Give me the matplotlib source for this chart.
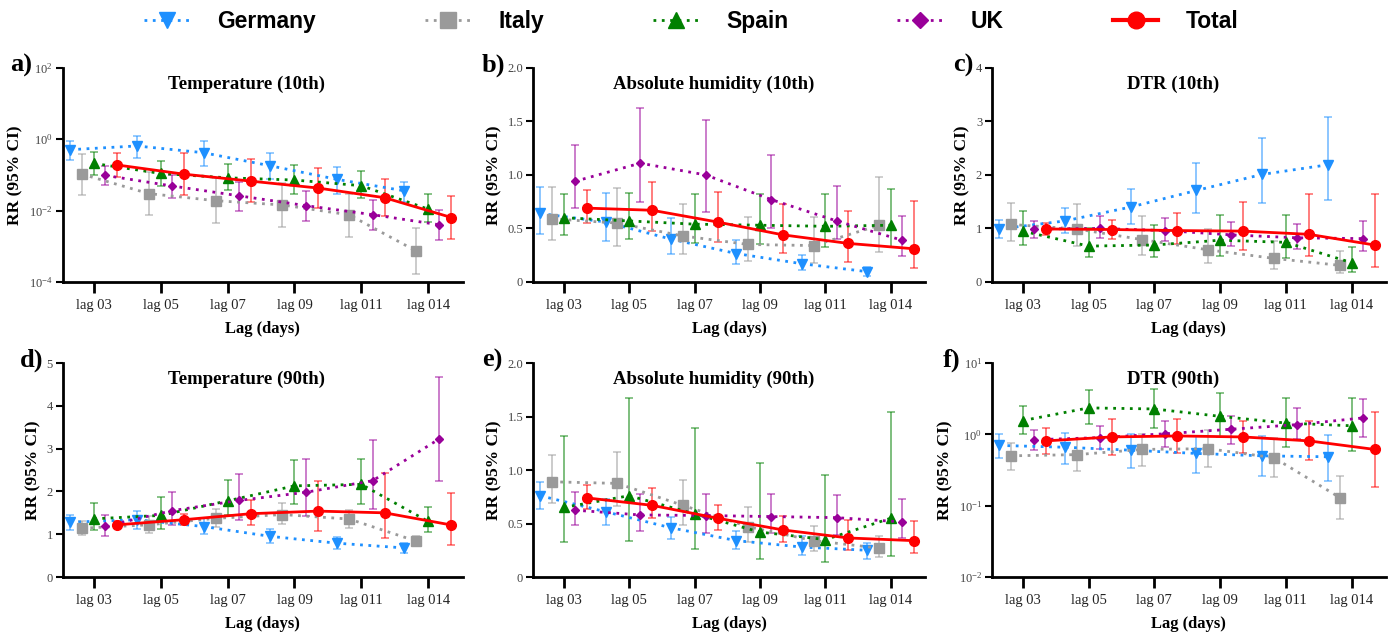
import matplotlib

matplotlib.use("Agg")
import matplotlib.pyplot as plt
from matplotlib.lines import Line2D
import numpy as np

LAGS = ["lag 03", "lag 05", "lag 07", "lag 09", "lag 011", "lag 014"]
SERIES = ["Germany", "Italy", "Spain", "UK", "Total"]

# rows: Germany, Italy, Spain, UK, Total
TEMP10_RR = [[0.51, 0.65, 0.42, 0.18, 0.075, 0.036],
             [0.105, 0.030, 0.019, 0.0144, 0.0076, 0.00074],
             [0.21, 0.11, 0.083, 0.072, 0.050, 0.011],
             [0.097, 0.049, 0.026, 0.0138, 0.0077, 0.0040],
             [0.19, 0.105, 0.067, 0.043, 0.023, 0.0064]]
TEMP10_LO = [[0.26, 0.30, 0.18, 0.076, 0.029, 0.018],
             [0.028, 0.0074, 0.0046, 0.0034, 0.0018, 0.00017],
             [0.10, 0.049, 0.037, 0.030, 0.022, 0.0048],
             [0.051, 0.022, 0.010, 0.0051, 0.0029, 0.0015],
             [0.085, 0.027, 0.017, 0.012, 0.0069, 0.0016]]
TEMP10_HI = [[0.90, 1.24, 0.88, 0.40, 0.17, 0.065],
             [0.38, 0.12, 0.080, 0.058, 0.029, 0.0032],
             [0.44, 0.24, 0.20, 0.19, 0.13, 0.030],
             [0.18, 0.10, 0.062, 0.035, 0.020, 0.0104],
             [0.42, 0.40, 0.28, 0.155, 0.075, 0.026]]

AH10_RR = [[0.64, 0.56, 0.40, 0.265, 0.17, 0.096],
           [0.59, 0.55, 0.43, 0.35, 0.34, 0.53],
           [0.60, 0.57, 0.54, 0.53, 0.52, 0.53],
           [0.94, 1.11, 1.00, 0.77, 0.57, 0.39],
           [0.69, 0.67, 0.56, 0.44, 0.36, 0.31]]
AH10_LO = [[0.45, 0.38, 0.26, 0.17, 0.11, 0.06],
           [0.39, 0.34, 0.26, 0.20, 0.18, 0.28],
           [0.44, 0.40, 0.36, 0.35, 0.33, 0.33],
           [0.69, 0.75, 0.65, 0.50, 0.40, 0.24],
           [0.55, 0.48, 0.37, 0.27, 0.19, 0.13]]
AH10_HI = [[0.89, 0.83, 0.60, 0.39, 0.25, 0.14],
           [0.89, 0.88, 0.73, 0.61, 0.61, 0.98],
           [0.82, 0.83, 0.82, 0.82, 0.82, 0.87],
           [1.28, 1.63, 1.51, 1.19, 0.90, 0.62],
           [0.86, 0.93, 0.84, 0.73, 0.66, 0.76]]

DTR10_RR = [[0.99, 1.14, 1.40, 1.71, 2.01, 2.19],
            [1.075, 0.99, 0.79, 0.60, 0.44, 0.31],
            [0.95, 0.67, 0.69, 0.78, 0.74, 0.36],
            [0.99, 1.00, 0.96, 0.88, 0.825, 0.81],
            [0.99, 0.98, 0.96, 0.95, 0.89, 0.69]]
DTR10_LO = [[0.83, 0.91, 1.08, 1.29, 1.475, 1.54],
            [0.77, 0.67, 0.51, 0.36, 0.24, 0.16],
            [0.69, 0.47, 0.46, 0.49, 0.44, 0.19],
            [0.83, 0.825, 0.76, 0.68, 0.625, 0.575],
            [0.875, 0.81, 0.71, 0.59, 0.48, 0.28]]
DTR10_HI = [[1.16, 1.39, 1.74, 2.22, 2.69, 3.09],
            [1.47, 1.46, 1.24, 0.99, 0.77, 0.575],
            [1.325, 1.0, 1.07, 1.26, 1.26, 0.66],
            [1.14, 1.23, 1.19, 1.125, 1.09, 1.13],
            [1.10, 1.16, 1.29, 1.49, 1.64, 1.64]]

TEMP90_RR = [[1.28, 1.34, 1.18, 0.95, 0.79, 0.68],
             [1.14, 1.22, 1.37, 1.46, 1.355, 0.84],
             [1.36, 1.44, 1.78, 2.13, 2.165, 1.30],
             [1.19, 1.55, 1.79, 1.98, 2.25, 3.23],
             [1.22, 1.34, 1.48, 1.54, 1.50, 1.215]]
TEMP90_LO = [[1.11, 1.13, 1.0, 0.79, 0.66, 0.56],
             [0.99, 1.04, 1.18, 1.24, 1.15, 0.75],
             [1.10, 1.13, 1.45, 1.71, 1.71, 1.06],
             [0.97, 1.21, 1.33, 1.425, 1.60, 2.235],
             [1.14, 1.21, 1.21, 1.07, 0.92, 0.755]]
TEMP90_HI = [[1.45, 1.55, 1.38, 1.12, 0.93, 0.79],
             [1.32, 1.42, 1.59, 1.74, 1.57, 0.95],
             [1.72, 1.87, 2.27, 2.73, 2.76, 1.635],
             [1.45, 1.99, 2.41, 2.76, 3.21, 4.665],
             [1.32, 1.48, 1.81, 2.235, 2.44, 1.96]]

AH90_RR = [[0.76, 0.61, 0.46, 0.34, 0.28, 0.25],
           [0.89, 0.875, 0.67, 0.47, 0.34, 0.27],
           [0.65, 0.76, 0.59, 0.42, 0.35, 0.55],
           [0.625, 0.58, 0.575, 0.565, 0.555, 0.515],
           [0.74, 0.67, 0.55, 0.44, 0.365, 0.34]]
AH90_LO = [[0.64, 0.49, 0.36, 0.26, 0.21, 0.17],
           [0.69, 0.66, 0.49, 0.33, 0.24, 0.19],
           [0.325, 0.34, 0.26, 0.17, 0.14, 0.20],
           [0.49, 0.43, 0.41, 0.41, 0.39, 0.365],
           [0.64, 0.55, 0.44, 0.33, 0.25, 0.225]]
AH90_HI = [[0.89, 0.73, 0.56, 0.43, 0.38, 0.32],
           [1.14, 1.17, 0.91, 0.65, 0.48, 0.38],
           [1.32, 1.67, 1.39, 1.07, 0.95, 1.54],
           [0.79, 0.775, 0.78, 0.78, 0.77, 0.73],
           [0.86, 0.83, 0.675, 0.57, 0.53, 0.52]]

DTR90_RR = [[0.70, 0.66, 0.60, 0.54, 0.50, 0.485],
            [0.50, 0.52, 0.615, 0.63, 0.47, 0.13],
            [1.56, 2.35, 2.27, 1.79, 1.44, 1.32],
            [0.84, 0.90, 1.02, 1.18, 1.37, 1.70],
            [0.81, 0.92, 0.95, 0.92, 0.81, 0.615]]
DTR90_LO = [[0.46, 0.39, 0.34, 0.29, 0.26, 0.22],
            [0.32, 0.31, 0.355, 0.35, 0.25, 0.066],
            [1.0, 1.38, 1.24, 0.91, 0.67, 0.58],
            [0.61, 0.63, 0.66, 0.73, 0.85, 0.92],
            [0.53, 0.51, 0.54, 0.54, 0.44, 0.18]]
DTR90_HI = [[1.02, 1.05, 1.0, 0.95, 0.94, 0.97],
            [0.76, 0.85, 1.01, 1.15, 0.88, 0.26],
            [2.5, 4.16, 4.39, 3.77, 3.21, 3.28],
            [1.14, 1.30, 1.56, 1.81, 2.32, 3.10],
            [1.24, 1.64, 1.66, 1.56, 1.56, 2.04]]

COLORS = ["#1E90FF", "#9A9A9A", "#008000", "#990099", "#FF0000"]
MARKERS = ["v", "s", "^", "D", "o"]
MSIZE = [6.5, 6.5, 6.5, 4.5, 7]
OFFSETS = [-0.36, -0.18, 0.0, 0.17, 0.35]

SERIF = "Liberation Serif"
plt.rcParams.update({
    "font.family": SERIF,
    "mathtext.fontset": "stix",
    "axes.linewidth": 2.0,
})

PANELS = [
    ("a)", "Temperature (10th)", TEMP10_RR, TEMP10_LO, TEMP10_HI, "log", (1e-4, 1e2), [1e-4, 1e-2, 1e0, 1e2]),
    ("b)", "Absolute humidity (10th)", AH10_RR, AH10_LO, AH10_HI, "linear", (0, 2), [0, 0.5, 1.0, 1.5, 2.0]),
    ("c)", "DTR (10th)", DTR10_RR, DTR10_LO, DTR10_HI, "linear", (0, 4), [0, 1, 2, 3, 4]),
    ("d)", "Temperature (90th)", TEMP90_RR, TEMP90_LO, TEMP90_HI, "linear", (0, 5), [0, 1, 2, 3, 4, 5]),
    ("e)", "Absolute humidity (90th)", AH90_RR, AH90_LO, AH90_HI, "linear", (0, 2), [0, 0.5, 1.0, 1.5, 2.0]),
    ("f)", "DTR (90th)", DTR90_RR, DTR90_LO, DTR90_HI, "log", (1e-2, 1e1), [1e-2, 1e-1, 1e0, 1e1]),
]

COL_LEFT = [0.0448, 0.3815, 0.7100]
COL_W = [0.2865, 0.2806, 0.2820]
ROW_BOT = [0.556, 0.0913]
ROW_H = 0.337
LETTER_X = [[10, 482, 953], [20, 482, 943]]
LETTER_Y = [65, 360]


def fmt_tick(v, scale):
    if scale == "log":
        e = int(round(np.log10(v)))
        return r"$\mathregular{10^{%d}}$" % e
    if isinstance(v, float):
        return "%.1f" % v
    return "%d" % v


fig = plt.figure(figsize=(13.97, 6.35), dpi=100)
x = np.arange(len(LAGS))

for k, (letter, title, rr, lo, hi, scale, ylim, yticks) in enumerate(PANELS):
    row, col = divmod(k, 3)
    ax = fig.add_axes([COL_LEFT[col], ROW_BOT[row], COL_W[col], ROW_H])
    rr = np.array(rr)
    lo = np.array(lo)
    hi = np.array(hi)
    for i in range(len(SERIES)):
        xi = x + OFFSETS[i]
        is_total = SERIES[i] == "Total"
        ax.errorbar(xi, rr[i], yerr=[rr[i] - lo[i], hi[i] - rr[i]], fmt="none",
                    ecolor=COLORS[i], alpha=0.55, elinewidth=1.3, capsize=3,
                    capthick=1.2, zorder=3 if is_total else 2)
        ax.plot(xi, rr[i], color=COLORS[i],
                linestyle="-" if is_total else (0, (1, 2)),
                linewidth=2.0, marker=MARKERS[i], markersize=MSIZE[i],
                zorder=6 if is_total else 4)
    ax.set_yscale(scale)
    ax.set_ylim(*ylim)
    ax.set_xlim(-0.47, 5.52)
    ax.set_yticks(yticks)
    ax.set_yticklabels([fmt_tick(v, scale) for v in yticks], fontsize=9, color="#444444")
    ax.minorticks_off()
    ax.set_xticks(x)
    ax.set_xticklabels(LAGS, fontsize=10.5, color="#222222")
    ax.tick_params(axis="x", length=8, width=2, pad=4)
    ax.tick_params(axis="y", length=5, width=1.5, pad=2)
    for s in ["top", "right"]:
        ax.spines[s].set_visible(False)
    ax.set_ylabel("RR (95% CI)", fontsize=12.5, fontweight="bold")
    ax.set_xlabel("Lag (days)", fontsize=12, fontweight="bold", labelpad=7)
    ax.text(0.46, 0.965, title, transform=ax.transAxes, ha="center", va="top",
            fontsize=13.5, fontweight="bold")
    fig.text(LETTER_X[row][col] / 1397, 1 - LETTER_Y[row] / 635, letter,
             ha="left", va="center", fontsize=19, fontweight="bold")

handles = []
for i in range(len(SERIES)):
    is_total = SERIES[i] == "Total"
    handles.append(Line2D([], [], color=COLORS[i],
                          linestyle="-" if is_total else (0, (1, 2)),
                          linewidth=3 if is_total else 2,
                          marker=MARKERS[i],
                          markersize=12 if i != 3 else 8))
leg = fig.legend(handles, SERIES, loc="center", bbox_to_anchor=(0.495, 0.966),
                 ncol=5, frameon=False, handlelength=2.0, handletextpad=1.2,
                 columnspacing=4.75, prop={"family": "Liberation Sans", "weight": "bold", "size": 16.5})

fig.savefig("out.png", dpi=100)
